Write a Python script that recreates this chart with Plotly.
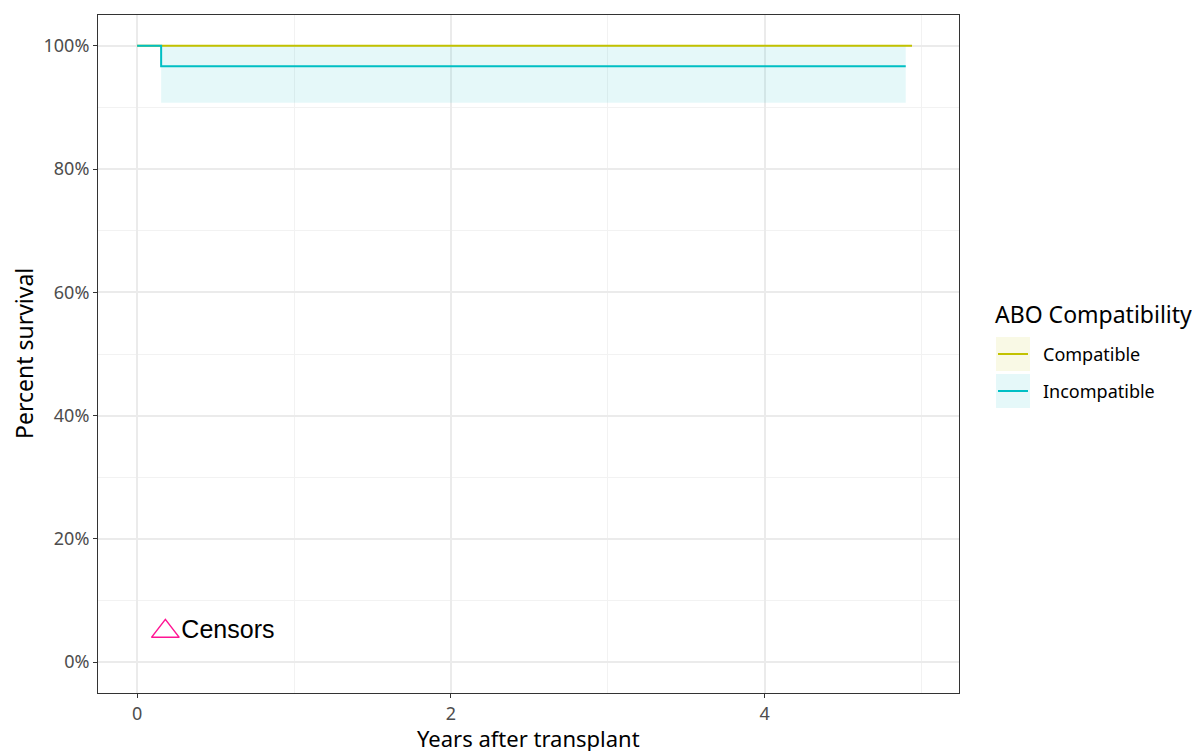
import plotly.graph_objects as go

# ── Data ──────────────────────────────────────────────────────────────
GROUPS = ["Compatible", "Incompatible"]
COLORS = {"Compatible": "#C2C200", "Incompatible": "#00BFC4"}
FILLS = {"Compatible": "rgba(194,194,0,0.1)", "Incompatible": "rgba(0,191,196,0.1)"}

compat_time = [0.0, 4.94]
compat_surv = [1.0, 1.0]

incompat_time = [0.0, 0.153, 4.90]
incompat_surv = [1.0, 0.9667, 0.9667]

incompat_ci_time = [0.153, 4.90]
incompat_ci_upper = [1.0, 1.0]
incompat_ci_lower = [0.9076, 0.9076]

censor_label_x = [0.18]
censor_label_y = [0.05]

x_ticks = [0, 2, 4]
y_ticks = [0, 0.2, 0.4, 0.6, 0.8, 1.0]
y_ticktext = ["0%", "20%", "40%", "60%", "80%", "100%"]

# ── Sizing (page body margin offsets the figure) ──────────────────────
OFF_X, OFF_Y = 8, 7
W, H = 1200 - OFF_X, 751 - OFF_Y
L, T = 98 - OFF_X, 14 - OFF_Y
R = W - (959 - OFF_X)
B = H - (692 - OFF_Y)
pw, ph = W - L - R, H - T - B


def px_x(p):
    # window pixel -> paper x
    return (p - OFF_X - L) / pw


def px_y(p):
    # window pixel -> paper y
    return (H - B - (p - OFF_Y)) / ph


# ── Figure ────────────────────────────────────────────────────────────
fig = go.Figure()

# confidence band (incompatible)
fig.add_trace(go.Scatter(
    x=incompat_ci_time, y=incompat_ci_upper, mode="lines", line_shape="hv",
    line=dict(width=0), showlegend=False, hoverinfo="skip",
))
fig.add_trace(go.Scatter(
    x=incompat_ci_time, y=incompat_ci_lower, mode="lines", line_shape="hv",
    line=dict(width=0), fill="tonexty", fillcolor=FILLS["Incompatible"],
    showlegend=False, hoverinfo="skip",
))

fig.add_trace(go.Scatter(
    x=compat_time, y=compat_surv, mode="lines", line_shape="hv",
    line=dict(color=COLORS["Compatible"], width=2), name="Compatible", showlegend=False,
))
fig.add_trace(go.Scatter(
    x=incompat_time, y=incompat_surv, mode="lines", line_shape="hv",
    line=dict(color=COLORS["Incompatible"], width=2), name="Incompatible", showlegend=False,
))

# censor legend marker
fig.add_trace(go.Scatter(
    x=censor_label_x, y=censor_label_y, mode="markers+text",
    marker=dict(symbol="triangle-up-open", size=24, color="#FF1493", line=dict(width=1.5)),
    text=["Censors"], textposition="middle right",
    textfont=dict(family="Liberation Sans, Arial", size=25, color="black"),
    showlegend=False, hoverinfo="skip",
))

# ── Axis titles ───────────────────────────────────────────────────────
fig.add_annotation(
    x=0.5, y=px_y(737), xref="paper", yref="paper", text="Years after transplant",
    showarrow=False, xanchor="center", yanchor="middle",
    font=dict(family="Noto Sans", size=22, color="black"),
)
fig.add_annotation(
    x=px_x(24), y=0.5, xref="paper", yref="paper", text="Percent survival",
    showarrow=False, xanchor="center", yanchor="middle", textangle=-90,
    font=dict(family="Noto Sans", size=23, color="black"),
)

# ── Manual legend ─────────────────────────────────────────────────────
fig.add_annotation(
    x=px_x(993), y=px_y(313), xref="paper", yref="paper", text="ABO Compatibility",
    showarrow=False, xanchor="left", yanchor="middle",
    font=dict(family="Noto Sans", size=23, color="black"),
)
for i, g in enumerate(GROUPS):
    top = 336 + i * 37
    fig.add_shape(type="rect", xref="paper", yref="paper",
                  x0=px_x(996), x1=px_x(1030), y0=px_y(top), y1=px_y(top + 34),
                  fillcolor=FILLS[g], line=dict(width=0))
    fig.add_shape(type="line", xref="paper", yref="paper",
                  x0=px_x(998), x1=px_x(1028), y0=px_y(top + 17), y1=px_y(top + 17),
                  line=dict(color=COLORS[g], width=2))
    fig.add_annotation(
        x=px_x(1041), y=px_y(top + 17), xref="paper", yref="paper", text=g,
        showarrow=False, xanchor="left", yanchor="middle",
        font=dict(family="Noto Sans", size=18, color="black"),
    )

# ── Axes ──────────────────────────────────────────────────────────────
AXIS_COMMON = dict(
    ticks="outside", ticklen=4, tickcolor="#333", tickwidth=1,
    tickfont=dict(family="Noto Sans", size=18, color="#4D4D4D"),
    showgrid=True, gridcolor="#EBEBEB", gridwidth=2,
    zeroline=False, showline=True, linecolor="#333", linewidth=1, mirror=True,
    automargin=False,
)
fig.update_xaxes(
    range=[-0.2495, 5.2395], tickvals=x_ticks, ticktext=[str(t) for t in x_ticks],
    minor=dict(dtick=1, tick0=0, showgrid=True, gridcolor="#F2F2F2", gridwidth=1),
    **AXIS_COMMON,
)
fig.update_yaxes(
    range=[-0.05, 1.05], tickvals=y_ticks, ticktext=y_ticktext,
    minor=dict(dtick=0.1, tick0=0, showgrid=True, gridcolor="#F2F2F2", gridwidth=1),
    **AXIS_COMMON,
)

fig.update_layout(
    width=W, height=H,
    margin=dict(l=L, r=R, t=T, b=B),
    paper_bgcolor="white", plot_bgcolor="white",
    showlegend=False,
)

fig.write_html("out.html")
